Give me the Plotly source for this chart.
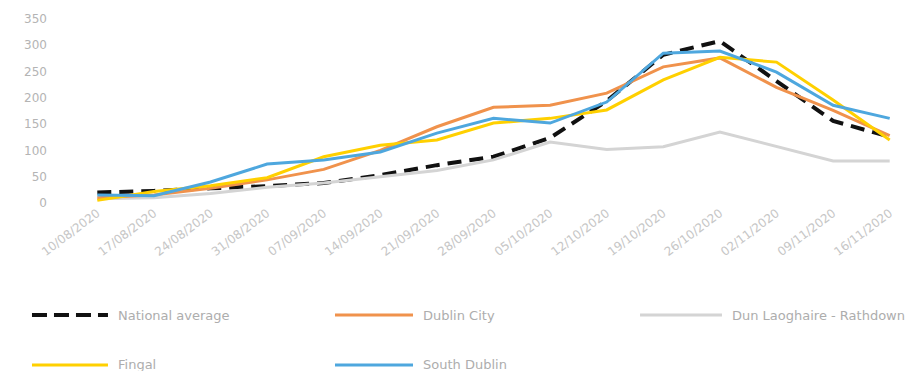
import plotly.graph_objects as go

weeks = ["10/08/2020", "17/08/2020", "24/08/2020", "31/08/2020", "07/09/2020",
         "14/09/2020", "21/09/2020", "28/09/2020", "05/10/2020", "12/10/2020",
         "19/10/2020", "26/10/2020", "02/11/2020", "09/11/2020", "16/11/2020"]

national_average = [20, 23, 28, 32, 38, 53, 72, 88, 124, 194, 282, 308, 232, 156, 126]
dublin_city = [10, 15, 28, 44, 64, 100, 145, 182, 186, 209, 259, 276, 220, 176, 128]
dun_laoghaire = [8, 10, 18, 30, 38, 50, 62, 82, 116, 102, 107, 135, 107, 80, 80]
fingal = [5, 22, 33, 48, 88, 110, 120, 152, 161, 177, 234, 277, 268, 196, 120]
south_dublin = [15, 14, 40, 74, 82, 97, 133, 161, 152, 192, 285, 289, 249, 186, 161]

y_ticks = [0, 50, 100, 150, 200, 250, 300, 350]

series = [
    ("National average", national_average, "#111111", 4, "14px,8px"),
    ("Dublin City", dublin_city, "#f0924c", 3, "solid"),
    ("Dun Laoghaire - Rathdown", dun_laoghaire, "#d4d4d4", 3, "solid"),
    ("Fingal", fingal, "#ffd000", 3, "solid"),
    ("South Dublin", south_dublin, "#4ea7de", 3, "solid"),
]

# draw order: the dashed national line sits underneath the county lines
draw_order = [0, 2, 1, 3, 4]

fig = go.Figure()
for i in draw_order:
    name, vals, color, width, dash = series[i]
    fig.add_trace(go.Scatter(
        x=weeks, y=vals, name=name, mode="lines",
        line=dict(color=color, width=width, dash=dash),
        showlegend=False,
    ))

base_font = "DejaVu Sans, Verdana, sans-serif"

fig.update_layout(
    width=921, height=371,
    margin=dict(l=69, r=3, t=19, b=168),
    paper_bgcolor="white", plot_bgcolor="white",
    xaxis=dict(
        type="category", range=[-0.5, 14.5], tickangle=-37,
        tickfont=dict(family=base_font, size=12, color="#c6c6c6"),
        showgrid=False, showline=False, zeroline=False, ticks="",
    ),
    yaxis=dict(
        range=[0, 350], tickvals=y_ticks,
        tickfont=dict(family=base_font, size=12, color="#b4b4b4"),
        showgrid=False, showline=False, zeroline=False, ticks="",
        ticklabelstandoff=21,
    ),
)

# legend drawn as line samples with labels, two rows
legend_rows = [
    [(0, -0.0436, 0.0459), (1, 0.3133, 0.4052), (2, 0.6726, 0.7691)],
    [(3, -0.0436, 0.0459), (4, 0.3133, 0.4052)],
]
row_y = [-0.6087, -0.8804]
legend_font = dict(family=base_font, size=13, color="#adadad")
for r, row in enumerate(legend_rows):
    for idx, x0, x1 in row:
        name, _, color, width, dash = series[idx]
        fig.add_shape(type="line", xref="paper", yref="paper",
                      x0=x0, x1=x1, y0=row_y[r], y1=row_y[r],
                      line=dict(color=color, width=width,
                                dash="15px,7px" if dash != "solid" else dash))
        fig.add_annotation(xref="paper", yref="paper", x=x1 + 0.009, y=row_y[r],
                           text=name, showarrow=False, xanchor="left",
                           yanchor="middle", font=legend_font)

fig.write_html("out.html")
